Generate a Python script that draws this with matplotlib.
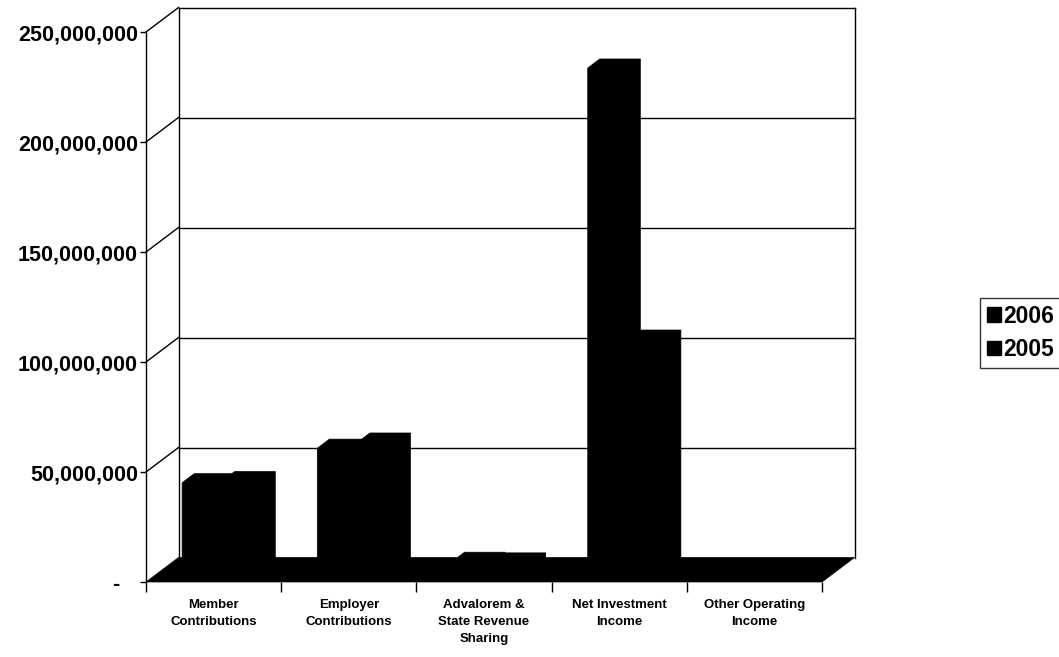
#!/usr/bin/env python3
"""Pseudo-3D clustered column chart of additions by source, 2006 vs 2005.

Excel-style oblique 3D: a black floor, a back wall with gridlines, and
black box columns set part-way into the depth. Saved to out.png.
"""
import matplotlib

matplotlib.use("Agg")  # headless
import matplotlib.pyplot as plt
import numpy as np
from matplotlib.patches import Patch, Polygon
from matplotlib.ticker import FuncFormatter

CATEGORIES = [
    "Member\nContributions",
    "Employer\nContributions",
    "Advalorem &\nState Revenue\nSharing",
    "Net Investment\nIncome",
    "Other Operating\nIncome",
]
YEARS = ["2006", "2005"]
VALUES_2006 = [42_000_000, 57_700_000, 6_300_000, 230_500_000, 300_000]
VALUES_2005 = [43_000_000, 60_500_000, 6_000_000, 107_300_000, 300_000]
Y_TICKS = [0, 50_000_000, 100_000_000, 150_000_000, 200_000_000, 250_000_000]

W_PX, H_PX = 1059, 657
DPI = 100
DEPTH_PX = (32.5, 24.5)      # screen shift from front plane to back wall
BAR_DEPTH = (0.28, 0.65)     # columns sit between these depth fractions
GROUP_MARGIN = 0.2           # per side, in category widths
INK = "black"
FONT = "Liberation Sans"


def fmt_tick(v, _pos):
    return f"{v:,.0f}" if v else "-   "


def main():
    plt.rcParams["font.family"] = [FONT, "DejaVu Sans"]
    fig = plt.figure(figsize=(W_PX / DPI, H_PX / DPI), dpi=DPI)
    fig.patch.set_facecolor("white")
    ax = fig.add_axes([146 / W_PX, 75 / H_PX, 676 / W_PX, 550 / H_PX])
    ncat = len(CATEGORIES)
    ymax = Y_TICKS[-1]
    ax.set_xlim(0, ncat)
    ax.set_ylim(0, ymax)
    ax.set_facecolor("none")

    # depth offset expressed in data units
    ddx = DEPTH_PX[0] / (676 / ncat)
    ddy = DEPTH_PX[1] / (550 / ymax)

    def at(x, y, z):
        return (x + z * ddx, y + z * ddy)

    lw = 1.0
    # back wall: edges and gridlines, plus left-wall diagonals
    for v in Y_TICKS[1:]:
        ax.plot(*zip(at(0, v, 1), at(ncat, v, 1)), color=INK, lw=lw,
                clip_on=False, zorder=1)
        ax.plot(*zip(at(0, v, 0), at(0, v, 1)), color=INK, lw=lw,
                clip_on=False, zorder=1)
    for x in (0, ncat):
        ax.plot(*zip(at(x, 0, 1), at(x, ymax, 1)), color=INK, lw=lw,
                clip_on=False, zorder=1)

    # black floor
    floor = [at(0, 0, 0), at(ncat, 0, 0), at(ncat, 0, 1), at(0, 0, 1)]
    ax.add_patch(Polygon(floor, closed=True, facecolor=INK, edgecolor=INK,
                         lw=0.5, clip_on=False, zorder=2))

    # columns: silhouette of a box seen from front, top and right side
    bar_w = (1 - 2 * GROUP_MARGIN) / len(YEARS)
    z0, z1 = BAR_DEPTH
    for j, vals in enumerate([VALUES_2006, VALUES_2005]):
        for i, v in enumerate(vals):
            x0 = i + GROUP_MARGIN + j * bar_w
            x1 = x0 + bar_w
            pts = [at(x0, 0, z0), at(x1, 0, z0), at(x1, 0, z1),
                   at(x1, v, z1), at(x0, v, z1), at(x0, v, z0)]
            ax.add_patch(Polygon(pts, closed=True, facecolor=INK,
                                 edgecolor=INK, lw=0.5, clip_on=False,
                                 zorder=3 + j))

    for side in ("top", "right", "bottom"):
        ax.spines[side].set_visible(False)
    ax.spines["left"].set_linewidth(lw)
    ax.spines["left"].set_zorder(6)

    ax.set_yticks(Y_TICKS)
    ax.yaxis.set_major_formatter(FuncFormatter(fmt_tick))
    ax.tick_params(axis="y", length=4.3, width=lw, pad=1.5, colors=INK,
                   labelsize=15.5)
    for t in ax.get_yticklabels():
        t.set_fontweight("bold")

    ax.set_xticks(np.arange(ncat + 1))
    ax.set_xticklabels([])
    ax.tick_params(axis="x", which="major", length=7.2, width=lw, colors=INK)
    ax.set_xticks(np.arange(ncat) + 0.5, minor=True)
    ax.set_xticklabels(CATEGORIES, minor=True, fontsize=9.5,
                       fontweight="bold", linespacing=1.55)
    ax.tick_params(axis="x", which="minor", length=0, pad=12.5)

    handles = [Patch(facecolor=INK, edgecolor=INK) for _ in YEARS]
    leg = fig.legend(handles, YEARS, loc="center left",
                     bbox_to_anchor=(980 / W_PX, 1 - 333 / H_PX),
                     frameon=True, fancybox=False, edgecolor=INK,
                     borderaxespad=0, borderpad=0.3, handlelength=0.6,
                     handleheight=0.6, handletextpad=0.1, labelspacing=0.45,
                     prop={"size": 16.5, "weight": "bold"})
    leg.get_frame().set_linewidth(lw)

    fig.savefig("out.png", dpi=DPI, facecolor="white")
    plt.close(fig)


if __name__ == "__main__":
    main()
